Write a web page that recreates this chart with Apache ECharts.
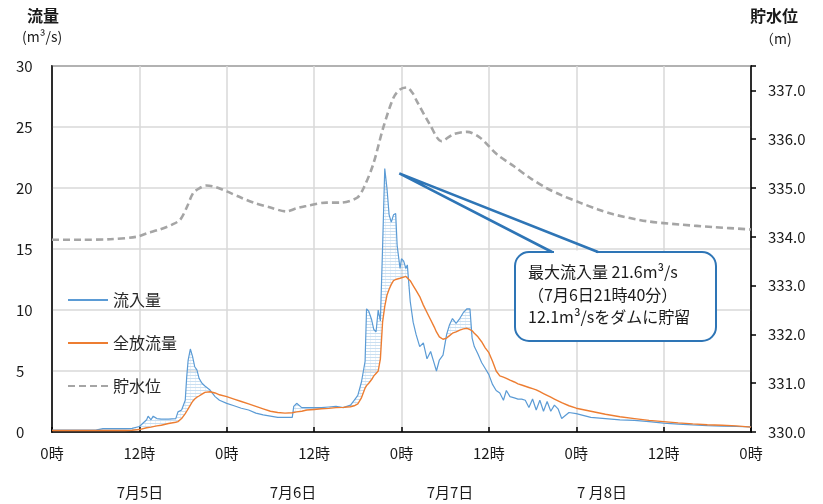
<!DOCTYPE html>
<html>
<head>
<meta charset="utf-8">
<script src="https://cdn.jsdelivr.net/npm/echarts@6/dist/echarts.min.js"></script>
<style>
  html, body { margin: 0; padding: 0; background: #fff; }
  #chart { width: 823px; height: 504px; }
</style>
</head>
<body>
<div id="chart"></div>
<script>
// 7月5日0時からの経過時間（h）
const hours = [0, 2, 4, 6, 7, 8, 10, 11, 12, 13, 13.2, 13.6, 13.9, 14.4, 15, 16, 17, 17.3, 17.8, 18.3, 18.5, 18.7, 19, 19.3, 19.6, 19.9, 20.2, 20.6, 21, 21.7, 22.4, 23, 24, 25, 26, 27, 28, 29, 30, 31, 32, 33, 33.2, 33.6, 34.3, 35, 36, 37, 38, 39, 40, 40.5, 41, 41.5, 42, 42.5, 43, 43.2, 43.5, 43.9, 44.2, 44.5, 44.8, 45.1, 45.4, 45.7, 46.0, 46.3, 46.6, 46.9, 47.2, 47.4, 47.8, 48.0, 48.3, 48.6, 48.8, 49.2, 49.6, 50, 50.5, 51, 51.5, 52, 52.5, 52.8, 53.2, 53.7, 54.2, 54.6, 55, 55.5, 56, 56.5, 57, 57.4, 57.7, 58, 58.5, 59, 59.5, 60, 60.5, 61, 61.5, 62, 62.4, 62.9, 63.5, 64, 64.5, 65, 65.5, 66, 66.5, 67, 67.5, 68, 68.5, 69, 69.5, 70, 71, 72, 74, 76, 78, 80, 82, 84, 86, 88, 90, 92, 94, 96];
// 流入量 (m3/s)
const inflow = [0.15, 0.15, 0.15, 0.15, 0.28, 0.28, 0.28, 0.3, 0.45, 1.0, 1.3, 1.0, 1.3, 1.1, 1.05, 1.05, 1.1, 1.65, 1.8, 2.6, 4.5, 5.9, 6.8, 6.2, 5.35, 5.1, 4.4, 4.0, 3.77, 3.44, 2.9, 2.6, 2.35, 2.15, 1.95, 1.8, 1.55, 1.4, 1.3, 1.2, 1.2, 1.2, 2.1, 2.35, 2.0, 2.0, 2.0, 2.0, 2.05, 2.1, 2.0, 2.1, 2.2, 2.6, 3.0, 4.1, 5.8, 10.1, 9.9, 9.2, 8.4, 8.2, 10.0, 9.1, 15.1, 21.6, 20.0, 17.8, 17.2, 17.8, 17.9, 15.3, 13.4, 14.2, 14.0, 13.4, 13.7, 10.7, 9.0, 8.0, 7.0, 7.3, 6.0, 6.6, 5.6, 5.0, 5.9, 6.3, 8.0, 8.8, 9.3, 8.9, 9.3, 9.8, 10.1, 10.1, 7.7, 7.0, 6.4, 5.7, 5.2, 4.7, 3.9, 3.4, 3.2, 2.6, 3.4, 2.9, 2.8, 2.7, 2.7, 2.6, 2.0, 2.7, 1.8, 2.6, 1.7, 2.5, 1.7, 2.2, 1.9, 1.1, 1.6, 1.5, 1.2, 1.1, 1.0, 0.95, 0.85, 0.72, 0.65, 0.58, 0.52, 0.48, 0.45, 0.42];
// 全放流量 (m3/s)
const outflow = [0.12, 0.12, 0.12, 0.12, 0.12, 0.12, 0.12, 0.14, 0.2, 0.35, 0.37, 0.4, 0.44, 0.5, 0.55, 0.7, 0.8, 0.85, 1.1, 1.5, 1.7, 1.9, 2.2, 2.5, 2.7, 2.85, 2.95, 3.1, 3.25, 3.3, 3.2, 3.05, 2.9, 2.7, 2.5, 2.3, 2.1, 1.9, 1.7, 1.6, 1.55, 1.58, 1.6, 1.65, 1.7, 1.8, 1.85, 1.9, 1.94, 2.0, 2.02, 2.05, 2.07, 2.15, 2.3, 2.8, 3.6, 3.8, 4.0, 4.3, 4.6, 4.8, 5.0, 6.0, 9.0, 10.3, 11.2, 11.7, 12.1, 12.4, 12.5, 12.55, 12.6, 12.65, 12.7, 12.75, 12.7, 12.4, 12.0, 11.6, 11.1, 10.4, 9.8, 9.2, 8.6, 8.2, 7.8, 7.6, 7.7, 7.9, 8.1, 8.2, 8.35, 8.45, 8.5, 8.4, 8.3, 8.1, 7.8, 7.4, 6.9, 6.5, 5.8, 5.0, 4.6, 4.5, 4.4, 4.25, 4.1, 3.95, 3.85, 3.75, 3.65, 3.55, 3.45, 3.3, 3.15, 3.0, 2.85, 2.7, 2.55, 2.4, 2.15, 1.95, 1.7, 1.45, 1.25, 1.1, 0.95, 0.85, 0.75, 0.67, 0.6, 0.55, 0.5, 0.4];
// 貯水位 (m)
const levelHours = [0, 4, 8, 11.6, 13, 14.8, 16.5, 17.6, 18.5, 19.4, 20.3, 21.2, 22.5, 24, 26, 27.7, 30, 32.2, 33.5, 34.9, 37.7, 39.6, 41.9, 42.8, 44.1, 45.5, 46.9, 47.8, 48.7, 49.5, 50.1, 51.9, 53.5, 55.1, 57.0, 58.8, 61.1, 63.4, 65.7, 67.9, 70, 72.5, 75, 77.1, 81.7, 86.3, 90.8, 96];
const level = [333.94, 333.94, 333.95, 334.0, 334.07, 334.15, 334.25, 334.35, 334.6, 334.9, 335.0, 335.05, 335.02, 334.93, 334.8, 334.7, 334.6, 334.52, 334.58, 334.63, 334.7, 334.7, 334.8, 335.0, 335.48, 336.24, 336.85, 337.02, 337.06, 336.95, 336.78, 336.3, 335.96, 336.1, 336.15, 336.03, 335.69, 335.45, 335.2, 335.0, 334.85, 334.7, 334.56, 334.46, 334.32, 334.25, 334.2, 334.15];

const seriesNames = ['流入量', '全放流量', '貯水位'];
const dateLabels = ['7月5日', '7月6日', '7月7日', '7 月8日'];
const noteLines = ['最大流入量 21.6m³/s', '（7月6日21時40分）', '12.1m³/sをダムに貯留'];
const notePoint = [47.7, 21.2];

const FONT = '"Noto Sans CJK JP", "Noto Sans", sans-serif';

// 貯留分のハッチング模様
const hatch = document.createElement('canvas');
hatch.width = 5;
hatch.height = 3;
const hctx = hatch.getContext('2d');
hctx.fillStyle = 'rgba(91,155,213,0.32)';
hctx.fillRect(0, 0, 5, 1);
hctx.fillStyle = 'rgba(91,155,213,0.12)';
hctx.fillRect(0, 1, 1, 2);

// 流入量が全放流量を上回る部分（貯留）を塗る
function renderStored (params, api) {
  const top = hours.map((h, i) => api.coord([h, inflow[i]]));
  const bottom = hours.map((h, i) => api.coord([h, Math.min(inflow[i], outflow[i])])).reverse();
  return {
    type: 'polygon',
    shape: { points: top.concat(bottom) },
    style: { fill: { image: hatch, repeat: 'repeat' }, stroke: null }
  };
}

const myChart = echarts.init(document.getElementById('chart'));

const option = {
  animation: false,
  textStyle: { fontFamily: FONT },
  grid: {
    left: 52, right: 72, top: 66, bottom: 72,
    show: true, borderColor: '#000', borderWidth: 1.5, backgroundColor: 'transparent'
  },
  legend: {
    data: seriesNames,
    orient: 'vertical',
    left: 62,
    top: 287,
    itemWidth: 40,
    itemHeight: 14,
    itemGap: 27,
    itemStyle: { opacity: 0 },
    textStyle: { fontSize: 16, color: '#262626', fontFamily: FONT }
  },
  xAxis: {
    type: 'value',
    min: 0,
    max: 96,
    interval: 12,
    axisLine: { lineStyle: { color: '#000', width: 1.5 } },
    axisTick: { inside: true, length: 5, lineStyle: { color: '#000', width: 1.5 } },
    splitLine: { show: true, lineStyle: { color: '#d9d9d9', width: 1.5 } },
    axisLabel: {
      margin: 14, fontSize: 15, color: '#1a1a1a',
      formatter: v => (v % 24 === 0 ? '0時' : '12時')
    }
  },
  yAxis: [
    {
      type: 'value',
      min: 0,
      max: 30,
      interval: 5,
      axisLine: { show: true, lineStyle: { color: '#000', width: 1.5 } },
      axisTick: { show: false },
      splitLine: { lineStyle: { color: '#d9d9d9', width: 1.5 } },
      axisLabel: { align: 'left', margin: 36, fontSize: 15, color: '#1a1a1a' }
    },
    {
      type: 'value',
      min: 330,
      max: 337.5,
      interval: 1,
      position: 'right',
      axisLine: { show: true, lineStyle: { color: '#000', width: 1.5 } },
      axisTick: { show: true, length: 5, lineStyle: { color: '#000', width: 1.5 } },
      splitLine: { show: false },
      axisLabel: {
        margin: 17, fontSize: 15, color: '#1a1a1a',
        formatter: v => (Number.isInteger(v) ? v.toFixed(1) : '')
      }
    }
  ],
  series: [
    {
      name: 'stored',
      type: 'custom',
      data: [[0, 0]],
      renderItem: renderStored,
      silent: true,
      clip: true,
      z: 1
    },
    {
      name: '流入量',
      type: 'line',
      data: hours.map((h, i) => [h, inflow[i]]),
      symbol: 'none',
      lineStyle: { color: '#5b9bd5', width: 1.2 },
      itemStyle: { color: '#5b9bd5' },
      z: 3
    },
    {
      name: '全放流量',
      type: 'line',
      data: hours.map((h, i) => [h, outflow[i]]),
      symbol: 'none',
      lineStyle: { color: '#ed7d31', width: 1.4 },
      itemStyle: { color: '#ed7d31' },
      z: 4
    },
    {
      name: '貯水位',
      type: 'line',
      yAxisIndex: 1,
      data: levelHours.map((h, i) => [h, level[i]]),
      symbol: 'none',
      smooth: 0.3,
      lineStyle: { color: '#a5a5a5', width: 2.6, type: [7, 4] },
      itemStyle: { color: '#a5a5a5' },
      z: 5
    }
  ]
};

myChart.setOption(option);

// 吹き出し・軸名・日付
const tip = myChart.convertToPixel({ xAxisIndex: 0, yAxisIndex: 0 }, notePoint);
const box = { x: 515, y: 252, w: 201, h: 89 };
const baseL = 552;
const baseR = 598;
const datePos = [140, 293, 450, 602];

const graphics = [
  { type: 'text', left: 27, top: 8, style: { text: '流量', font: 'bold 16px ' + FONT, fill: '#1a1a1a' } },
  { type: 'text', left: 22, top: 30, style: { text: '(m³/s)', font: '14px ' + FONT, fill: '#1a1a1a' } },
  { type: 'text', left: 750, top: 8, style: { text: '貯水位', font: 'bold 16px ' + FONT, fill: '#1a1a1a' } },
  { type: 'text', left: 760, top: 32, style: { text: '（m)', font: '14px ' + FONT, fill: '#1a1a1a' } },
  {
    type: 'rect', z: 10,
    shape: { x: box.x, y: box.y, width: box.w, height: box.h, r: 14 },
    style: { fill: '#fff', stroke: '#2e75b6', lineWidth: 2 }
  },
  {
    type: 'line', z: 11,
    shape: { x1: baseL + 2, y1: box.y, x2: baseR - 2, y2: box.y },
    style: { stroke: '#fff', lineWidth: 3 }
  },
  {
    type: 'polyline', z: 12,
    shape: { points: [[baseL, box.y], tip, [baseR, box.y]] },
    style: { stroke: '#2e75b6', lineWidth: 2.6, fill: null, lineJoin: 'miter' }
  },
  {
    type: 'text', z: 13, x: box.x + 13, y: box.y + 9,
    style: { text: noteLines.join('\n'), font: '16px ' + FONT, lineHeight: 22.5, fill: '#1a1a1a' }
  }
];
dateLabels.forEach((t, i) => {
  graphics.push({
    type: 'text', x: datePos[i], y: 492,
    style: { text: t, font: '15px ' + FONT, fill: '#1a1a1a', align: 'center', verticalAlign: 'middle' }
  });
});

myChart.setOption({ graphic: graphics });

window.addEventListener('resize', () => {
  myChart.resize()
});
</script>
</body>
</html>
